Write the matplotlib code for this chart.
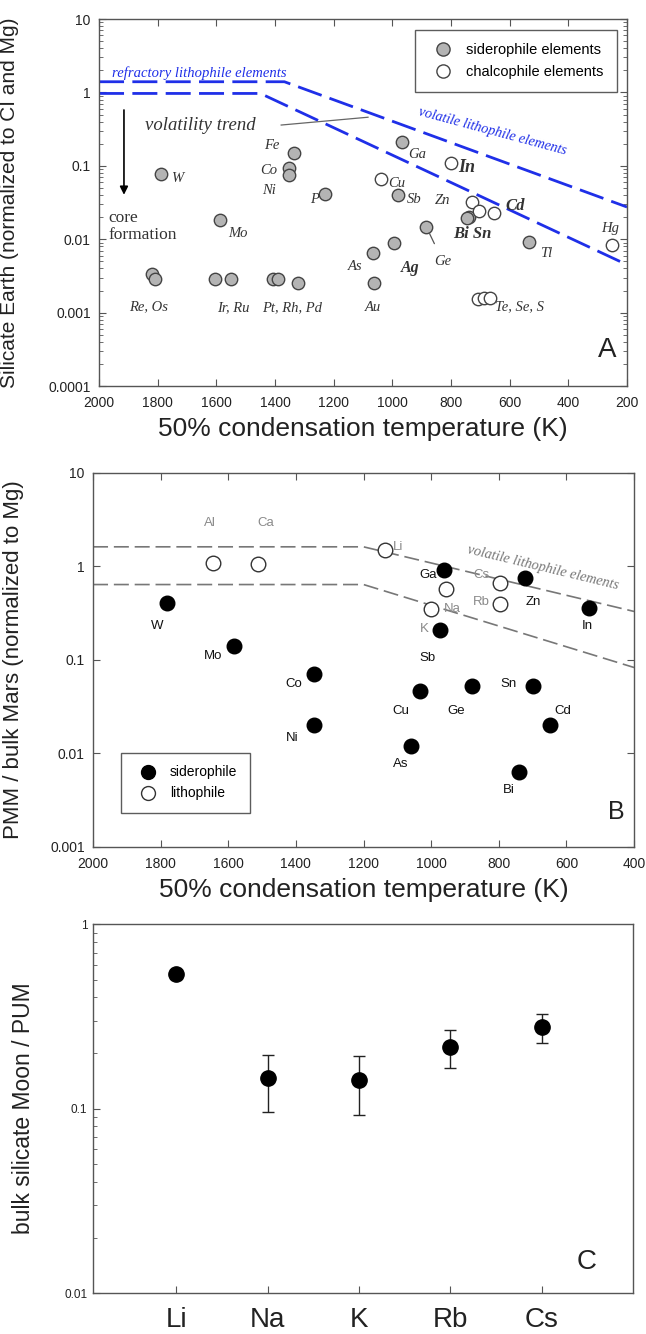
import matplotlib
matplotlib.use("Agg")
import matplotlib.pyplot as plt
from matplotlib.lines import Line2D
from matplotlib.ticker import FixedLocator, FuncFormatter, LogLocator, NullFormatter
import numpy as np

plt.rcParams['font.family'] = ['Liberation Sans', 'DejaVu Sans']

# --- A: silicate Earth vs condensation temperature ---
sid_a_names = ["W", "Fe", "Co", "Ni", "P", "Mo", "Ga", "Sb", "Ge", "Ag", "As", "Au",
               "Re", "Os", "Ir", "Ru", "Pt", "Rh", "Pd", "Sn", "Bi", "Tl"]
sid_a_tc = [1789, 1336, 1354, 1354, 1228, 1589, 968, 982, 884, 996, 1066, 1062,
            1820, 1810, 1604, 1551, 1407, 1389, 1323, 740, 746, 533]
sid_a_val = [0.077, 0.152, 0.093, 0.075, 0.041, 0.0184, 0.21, 0.040, 0.0147, 0.0090, 0.0066, 0.0025,
             0.0034, 0.0029, 0.0029, 0.0029, 0.0029, 0.0029, 0.0025, 0.0200, 0.0197, 0.0092]
chal_a_names = ["Cu", "In", "Zn", "Pb", "Cd", "Hg", "Te", "Se", "S"]
chal_a_tc = [1038, 800, 729, 704, 652, 252, 708, 687, 666]
chal_a_val = [0.067, 0.109, 0.032, 0.0243, 0.023, 0.0084, 0.00152, 0.00157, 0.0016]

# lithophile reference bands (break points)
refr_tc = [2000, 1368, 200]
refr_val = [1.40, 1.40, 0.0275]
vol_tc = [2000, 1450, 200]
vol_val = [0.97, 0.97, 0.0045]

# --- B: PMM / bulk Mars ---
sid_b_names = ["W", "Mo", "Co", "Ni", "Ga", "Sb", "Cu", "As", "Ge", "Zn", "Sn", "Bi", "Cd", "In"]
sid_b_tc = [1782, 1582, 1346, 1346, 963, 973, 1032, 1061, 879, 722, 698, 741, 649, 533]
sid_b_val = [0.41, 0.141, 0.070, 0.020, 0.92, 0.21, 0.046, 0.0119, 0.053, 0.75, 0.053, 0.0063, 0.020, 0.36]
lit_b_names = ["Al", "Ca", "Li", "Na", "K", "Cs", "Rb"]
lit_b_tc = [1645, 1511, 1138, 955, 1001, 796, 796]
lit_b_val = [1.10, 1.07, 1.48, 0.57, 0.35, 0.66, 0.40]

band_b_upper_tc = [2000, 1200, 400]
band_b_upper_val = [1.62, 1.62, 0.33]
band_b_lower_tc = [2000, 1200, 400]
band_b_lower_val = [0.64, 0.64, 0.083]

# --- C: bulk silicate Moon / PUM ---
alkali = ["Li", "Na", "K", "Rb", "Cs"]
moon_ratio = [0.535, 0.146, 0.142, 0.215, 0.277]
moon_err = [0.03, 0.05, 0.05, 0.05, 0.05]


def fmt_log(v, pos):
    return "%g" % v


fig = plt.figure(figsize=(6.46, 13.34), dpi=100)

spine_col = "#555555"


def style_axes(ax):
    for s in ax.spines.values():
        s.set_color(spine_col)
        s.set_linewidth(1.0)
    ax.tick_params(which="both", direction="in", color=spine_col, labelcolor="#222222")


# ================= panel A =================
axA = fig.add_axes([0.1533, 0.7106, 0.8173, 0.2751])
style_axes(axA)
axA.set_xlim(2000, 200)
axA.set_ylim(1e-4, 10)
axA.set_yscale("log")
axA.xaxis.set_major_locator(FixedLocator(np.arange(200, 2001, 200)))
axA.yaxis.set_major_locator(FixedLocator([1e-4, 1e-3, 1e-2, 1e-1, 1, 10]))
axA.yaxis.set_minor_locator(LogLocator(base=10, subs=np.arange(2, 10)))
axA.yaxis.set_minor_formatter(NullFormatter())
axA.yaxis.set_major_formatter(FuncFormatter(fmt_log))
axA.tick_params(which="both", top=True, right=True, labelsize=10)
axA.tick_params(axis="x", pad=7)
axA.tick_params(axis="y", pad=6)
axA.tick_params(which="major", length=5)
axA.tick_params(which="minor", length=3)

blue = "#1f2fe8"
axA.plot(refr_tc, refr_val, color=blue, lw=2, dashes=(9, 3))
axA.plot(vol_tc, vol_val, color=blue, lw=2, dashes=(9, 3))

axA.scatter(sid_a_tc, sid_a_val, s=80, facecolor="#b4b4b4", edgecolor="#444444", lw=1, zorder=3)
axA.scatter(chal_a_tc, chal_a_val, s=80, facecolor="white", edgecolor="#444444", lw=1, zorder=4)

serif = ["Liberation Serif", "DejaVu Serif"]
txt_col = "#333333"
a_lookup = {n: (t, v) for n, t, v in zip(sid_a_names + chal_a_names,
                                         sid_a_tc + chal_a_tc, sid_a_val + chal_a_val)}
# label text, anchor element, offset (pt), alignment, weight, size
a_labels = [
    ("W", "W", (12, -3), "center", "normal", 10.5),
    ("Fe", "Fe", (-16, 5), "center", "normal", 10.5),
    ("Co", "Co", (-14, -2), "center", "normal", 10.5),
    ("Ni", "Ni", (-14, -11), "center", "normal", 10.5),
    ("P", "P", (-8, -4), "center", "normal", 10.5),
    ("Sb", "Sb", (12, -3), "center", "normal", 10.5),
    ("Zn", "Zn", (-21, 1.5), "center", "normal", 10.5),
    ("Cd", "Cd", (15, 5), "center", "bold", 12),
    ("Bi Sn", "Bi", (4, -12), "center", "bold", 12),
    ("Ga", "Ga", (11, -9), "center", "normal", 10.5),
    ("In", "In", (11, -3), "center", "bold", 13),
    ("Cu", "Cu", (11, -3.5), "center", "normal", 10.5),
    ("Mo", "Mo", (13, -10), "center", "normal", 10.5),
    ("As", "As", (-13, -10), "center", "normal", 10.5),
    ("Tl", "Tl", (12, -8), "center", "normal", 10.5),
    ("Hg", "Hg", (-1, 12), "center", "normal", 10.5),
    ("Re, Os", "Re", (-2, -24), "center", "normal", 10.5),
    ("Ir, Ru", "Ir", (13, -20.5), "center", "normal", 10.5),
    ("Pt, Rh, Pd", "Pt", (14, -20.5), "center", "normal", 10.5),
    ("Au", "Au", (-1, -17), "center", "normal", 10.5),
    ("Te, Se, S", "Te", (12, -5), "left", "normal", 10.5),
]
for text, el, off, ha, wt, sz in a_labels:
    axA.annotate(text, a_lookup[el], xytext=off, textcoords="offset points",
                 ha=ha, va="center", family=serif, style="italic", weight=wt,
                 size=sz, color=txt_col)
# labels tied to their point by a leader line
for text, el, off, wt, sz in [("Ge", "Ge", (12, -25), "normal", 10.5),
                              ("Ag", "Ag", (12, -18), "bold", 11.5)]:
    axA.annotate(text, a_lookup[el], xytext=off, textcoords="offset points",
                 ha="center", va="center", family=serif, style="italic", weight=wt,
                 size=sz, color=txt_col,
                 arrowprops=dict(arrowstyle="-", color="#555555", lw=0.9,
                                 shrinkA=7, shrinkB=5))

axA.text(1956, 1.84, "refractory lithophile elements", family=serif, style="italic",
         color=blue, size=10.5, ha="left", va="center")
axA.text(660, 0.29, "volatile lithophile elements", family=serif, style="italic",
         color=blue, size=10.2, ha="center", va="center", rotation=-15)
axA.text(1843, 0.36, "volatility trend", family=serif, style="italic",
         color=txt_col, size=13.5, ha="left", va="center")
axA.plot([1379, 1083], [0.36, 0.46], color="#666666", lw=0.9)
axA.annotate("", xy=(1915, 0.037), xytext=(1915, 0.63),
             arrowprops=dict(arrowstyle="-|>", color="black", lw=1.2,
                             mutation_scale=12))
axA.text(1969, 0.015, "core\nformation", family=serif, color=txt_col, size=12.5,
         ha="left", va="center", linespacing=1.05)
axA.text(0.962, 0.098, "A", transform=axA.transAxes, size=20, ha="center", va="center",
         color="#222222")

legA = axA.legend(handles=[
    Line2D([], [], ls="none", marker="o", ms=9.5, mfc="#b4b4b4", mec="#444444", label="siderophile elements"),
    Line2D([], [], ls="none", marker="o", ms=9.5, mfc="white", mec="#444444", label="chalcophile elements")],
    loc="upper right", bbox_to_anchor=(0.981, 0.97), borderaxespad=0, fontsize=10.5,
    frameon=True, fancybox=False, edgecolor="#333333", borderpad=0.9,
    handletextpad=0.6, labelspacing=0.55)
legA.get_frame().set_linewidth(1.0)

axA.set_xlabel("50% condensation temperature (K)", size=19, color="#222222", labelpad=5)
axA.set_ylabel("Silicate Earth (normalized to CI and Mg)", size=15, color="#222222")
axA.yaxis.set_label_coords(-(99 - 19) / 528, 0.5)

# ================= panel B =================
axB = fig.add_axes([0.144, 0.3651, 0.8375, 0.2804])
style_axes(axB)
axB.set_xlim(2000, 400)
axB.set_ylim(1e-3, 10)
axB.set_yscale("log")
axB.xaxis.set_major_locator(FixedLocator(np.arange(400, 2001, 200)))
axB.yaxis.set_major_locator(FixedLocator([1e-3, 1e-2, 1e-1, 1, 10]))
axB.yaxis.set_minor_locator(FixedLocator([]))
axB.yaxis.set_major_formatter(FuncFormatter(fmt_log))
axB.tick_params(which="both", top=True, right=True, labelsize=10, length=5)
axB.tick_params(axis="x", pad=7)
axB.tick_params(axis="y", pad=6)

grey_line = "#777777"
axB.plot(band_b_upper_tc, band_b_upper_val, color=grey_line, lw=1.2, dashes=(9, 3.5))
axB.plot(band_b_lower_tc, band_b_lower_val, color=grey_line, lw=1.2, dashes=(9, 3.5))

axB.scatter(sid_b_tc, sid_b_val, s=110, facecolor="black", edgecolor="black", zorder=4)
axB.scatter(lit_b_tc, lit_b_val, s=110, facecolor="white", edgecolor="#333333", lw=1, zorder=3)

b_offsets = {
    "W": (-7, -17), "Mo": (-15.5, -7), "Co": (-15, -7), "Ni": (-16, -9.5),
    "Ga": (-11, -3.5), "Sb": (-9, -20), "Cu": (-14, -14), "As": (-7, -13),
    "Ge": (-11.5, -18), "Zn": (6, -17), "Sn": (-18, 1), "Bi": (-7, -13),
    "Cd": (9, 10), "In": (-1, -13),
    "Al": (-2, 28.5), "Ca": (5, 29), "Li": (10, 2.5), "Na": (4, -14),
    "K": (-5, -14.5), "Cs": (-13.5, 6), "Rb": (-13.5, 1.5),
}
for n, t, v in zip(sid_b_names, sid_b_tc, sid_b_val):
    axB.annotate(n, (t, v), xytext=b_offsets[n], textcoords="offset points",
                 ha="center", va="center", size=9.5, color="#111111")
for n, t, v in zip(lit_b_names, lit_b_tc, lit_b_val):
    axB.annotate(n, (t, v), xytext=b_offsets[n], textcoords="offset points",
                 ha="center", va="center", size=9.5, color="#8a8a8a")

axB.text(0.832, 0.746, "volatile lithophile elements", transform=axB.transAxes,
         family=serif, style="italic", color="#777777", size=10.3, ha="center",
         va="center", rotation=-13.5)
axB.text(0.967, 0.094, "B", transform=axB.transAxes, size=18, ha="center", va="center",
         color="#222222")

legB = axB.legend(handles=[
    Line2D([], [], ls="none", marker="o", ms=10, mfc="black", mec="black", label="siderophile"),
    Line2D([], [], ls="none", marker="o", ms=10, mfc="white", mec="#333333", label="lithophile")],
    loc="lower left", bbox_to_anchor=(0.052, 0.091), borderaxespad=0, fontsize=10,
    frameon=True, fancybox=False, edgecolor="#333333", borderpad=0.9,
    handletextpad=0.6, labelspacing=0.5)
legB.get_frame().set_linewidth(1.0)

axB.set_xlabel("50% condensation temperature (K)", size=19, color="#222222", labelpad=5)
axB.set_ylabel("PMM / bulk Mars (normalized to Mg)", size=16, color="#222222")
axB.yaxis.set_label_coords(-(93 - 24) / 541, 0.5)

# ================= panel C =================
axC = fig.add_axes([0.144, 0.0307, 0.8359, 0.2766])
style_axes(axC)
pos = np.arange(1, len(alkali) + 1)
axC.set_xlim(0.09, 6.0)
axC.set_yscale("log")
axC.set_ylim(0.01, 1)
axC.errorbar(pos, moon_ratio, yerr=moon_err, fmt="o", ms=11, mfc="black", mec="black",
             ecolor="#222222", elinewidth=1, capsize=4, capthick=1)
axC.set_xticks(pos)
axC.set_xticklabels(alkali)
axC.yaxis.set_major_locator(FixedLocator([0.01, 0.1, 1]))
axC.yaxis.set_minor_locator(LogLocator(base=10, subs=np.arange(2, 10)))
axC.yaxis.set_minor_formatter(NullFormatter())
axC.yaxis.set_major_formatter(FuncFormatter(fmt_log))
axC.tick_params(axis="x", labelsize=20, pad=10, length=5)
axC.tick_params(axis="y", which="both", labelsize=8.5, pad=4)
axC.tick_params(axis="y", which="major", length=5)
axC.tick_params(axis="y", which="minor", length=3)
axC.text(0.915, 0.084, "C", transform=axC.transAxes, size=20, ha="center", va="center",
         color="#222222")
axC.set_ylabel("bulk silicate Moon / PUM", size=16.5, color="#222222")
axC.yaxis.set_label_coords(-(93 - 35) / 540, 0.5)

fig.savefig("out.png", dpi=100)
